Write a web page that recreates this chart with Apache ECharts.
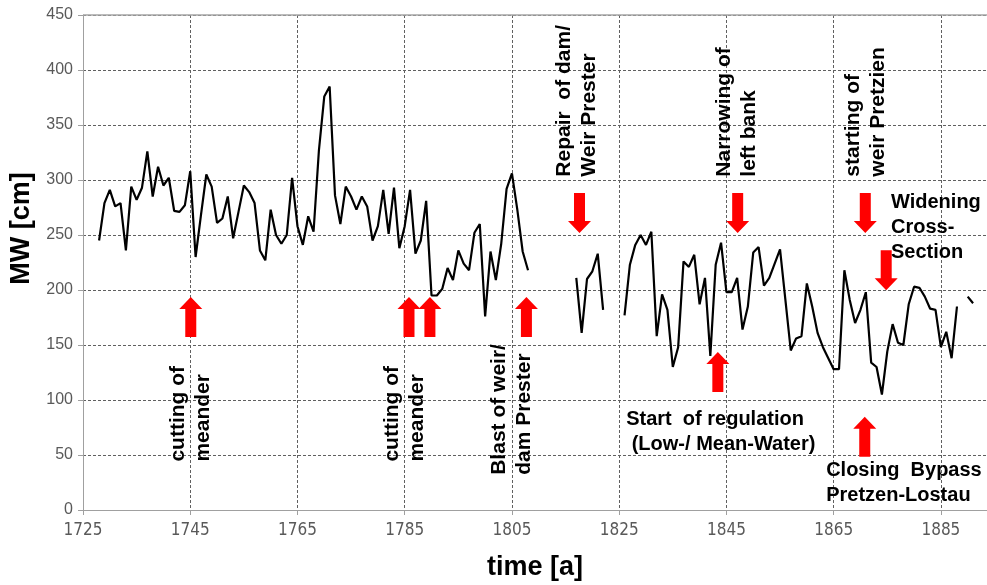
<!DOCTYPE html>
<html><head><meta charset="utf-8">
<script src="https://cdn.jsdelivr.net/npm/echarts@6/dist/echarts.min.js"></script>
<style>html,body{margin:0;padding:0;background:#fff}#c{width:987px;height:585px}</style>
</head><body><div id="c"></div>
<script>
// ---- data ----
const firstYear = 1728;
const mwValues = [
  245,279,291,276,279,236,294,282,293,326, // 1728-1737
  285,312,295,302,272,271,277,308,230,268, // 1738-1747
  305,294,261,265,285,247,271,295,289,279, // 1748-1757
  236,227,273,250,242,250,302,258,241,267, // 1758-1767
  253,327,376,385,286,260,294,285,273,285, // 1768-1777
  276,245,258,291,251,293,238,258,291,233, // 1778-1787
  245,281,195,195,201,220,209,236,224,218, // 1788-1797
  252,260,176,235,209,242,292,306,273,235, // 1798-1807
  218,null,null,null,null,null,null,null,null,211, // 1808-1817
  161,210,217,233,182,null,null,null,177,223, // 1818-1827
  241,250,241,253,158,196,182,130,148,226, // 1828-1837
  221,232,187,211,140,223,243,198,198,211, // 1838-1847
  164,185,234,239,204,211,224,237,191,145, // 1848-1857
  156,158,206,185,161,148,138,128,128,218, // 1858-1867
  191,170,182,198,134,130,105,144,169,152, // 1868-1877
  150,187,203,202,194,183,182,148,162,138, // 1878-1887
  185,null,194,188                          // 1888-1891
];
const xTickStart = 1725, xTickStep = 20, xMax = 1893.6;
const yMin = 0, yMax = 450, yStep = 50;

const arrowYears  = [1745.1, 1785.8, 1789.7, 1807.7, 1817.6, 1847.1, 1870.9, 1874.8, 1843.4, 1870.8];
const arrowValues = [175.5, 175.5, 175.5, 175.5, 270, 270, 270, 218, 125.5, 66.6];
const arrowDirs   = ['up','up','up','up','down','down','down','down','up','up'];

const noteTexts = [
  'cutting of\nmeander',
  'cutting of\nmeander',
  'Blast of weir/\ndam Prester',
  'Repair  of dam/\nWeir Prester',
  'Narrowing of\nleft bank',
  'starting of\nweir Pretzien',
  'Widening\nCross-\nSection',
  'Start  of regulation\n (Low-/ Mean-Water)',
  'Closing  Bypass\nPretzen-Lostau'
];
const noteYears  = [1745.0, 1785.0, 1805.0, 1817.0, 1847.0, 1870.9, 1875.7, 1826.3, 1863.6];
const noteValues = [44, 44, 32, 303, 303, 303, 257, 70.5, 24.5];
const noteVertical = [true, true, true, true, true, true, false, false, false];

// ---- build ----
const lineData = mwValues.map((v, i) => [firstYear + i, v]);
const arrowPath = 'path://M0,12 L11.5,0 L23,12 L17,12 L17,40 L6,40 L6,12 Z';
const arrowData = arrowYears.map((y, i) => ({
  value: [y, arrowValues[i]],
  symbolRotate: arrowDirs[i] === 'down' ? 180 : 0
}));
const noteData = noteTexts.map((t, i) => ({
  name: t,
  value: [noteYears[i], noteValues[i]],
  label: noteVertical[i]
    ? { rotate: 90, align: 'left', verticalAlign: 'middle', fontSize: 21 }
    : { rotate: 0, align: 'left', verticalAlign: 'middle', fontSize: 20 }
}));

const chart = echarts.init(document.getElementById('c'), null, { renderer: 'canvas' });
chart.setOption({
  animation: false,
  backgroundColor: '#ffffff',
  grid: { left: 83, right: 0, top: 15, bottom: 75, outerBoundsMode: 'none' },
  xAxis: {
    type: 'value', min: xTickStart, max: xMax, interval: xTickStep,
    name: 'time [a]', nameLocation: 'middle', nameGap: 44,
    nameTextStyle: { fontFamily: 'Liberation Sans', fontWeight: 'bold', fontSize: 27, color: '#000' },
    axisLine: { show: true, lineStyle: { color: '#a0a0a0', width: 1 } },
    axisTick: { show: true, length: 5, lineStyle: { color: '#a0a0a0' } },
    axisLabel: {
      showMaxLabel: false, margin: 12,
      fontFamily: 'Liberation Sans Narrow, DejaVu Sans Condensed, sans-serif', fontSize: 17, color: '#595959',
      formatter: v => ((v - xTickStart) % xTickStep === 0 ? String(v) : '')
    },
    splitLine: { show: true, lineStyle: { color: '#606060', type: [3, 2], width: 1 } }
  },
  yAxis: {
    type: 'value', min: yMin, max: yMax, interval: yStep,
    name: 'MW [cm]', nameLocation: 'middle', nameGap: 40,
    nameTextStyle: { fontFamily: 'Liberation Sans', fontWeight: 'bold', fontSize: 27, color: '#000', padding: [0, 0, 0, 68] },
    axisLine: { show: true, lineStyle: { color: '#a0a0a0', width: 1 } },
    axisTick: { show: true, length: 5, lineStyle: { color: '#a0a0a0' } },
    axisLabel: { margin: 10, fontFamily: 'Liberation Sans', fontSize: 16, color: '#595959' },
    splitLine: { show: true, lineStyle: { color: '#606060', type: [3, 2], width: 1 } }
  },
  series: [
    {
      type: 'line', data: lineData, showSymbol: false, connectNulls: false,
      lineStyle: { color: '#000', width: 2.2 }, silent: true, z: 3,
      markLine: {
        silent: true, symbol: 'none', label: { show: false },
        lineStyle: { color: '#a6a6a6', type: 'solid', width: 1.5 },
        data: [{ yAxis: yMax }]
      }
    },
    {
      type: 'scatter', data: arrowData, symbol: arrowPath, symbolSize: [23, 40],
      symbolKeepAspect: false, itemStyle: { color: '#ff0000', opacity: 1 }, silent: true, z: 4
    },
    {
      type: 'scatter', data: noteData, symbolSize: 0, itemStyle: { color: 'rgba(0,0,0,0)' }, silent: true, z: 5,
      label: {
        show: true, position: 'inside', formatter: p => p.name,
        fontFamily: 'Liberation Sans', fontWeight: 'bold', color: '#000', lineHeight: 25,
        textBorderWidth: 0, textShadowBlur: 0, opacity: 1
      }
    }
  ]
});
</script>
</body></html>
